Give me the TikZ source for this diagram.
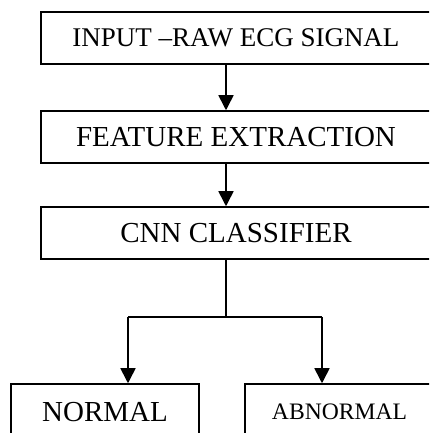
\documentclass[tikz,border=0pt]{standalone}
\usepackage{fontspec}
\setmainfont{Liberation Serif}
\usetikzlibrary{arrows.meta}

\begin{document}
\begin{tikzpicture}[x=1pt,y=1pt,
    box/.style={draw,rectangle,line width=1.5pt,inner sep=0pt,minimum height=52pt},
    link/.style={line width=1.6pt},
    arr/.style={link,-{Triangle[length=15pt,width=15pt]}}]
  \useasboundingbox (0,0) rectangle (429,433);
  \clip (0,0) rectangle (429,433);
  \coordinate (axis) at (226,0);
  \node [box,minimum width=390pt,font=\fontsize{27}{27}\selectfont] (input) at (236,395) {INPUT –RAW ECG SIGNAL};
  \node [box,minimum width=390pt,font=\fontsize{29}{29}\selectfont] (feat) at (236,296) {FEATURE EXTRACTION};
  \node [box,minimum width=390pt,font=\fontsize{29}{29}\selectfont] (cnn) at (236,200) {CNN CLASSIFIER};
  \node [box,minimum width=188pt,minimum height=56pt,font=\fontsize{29}{29}\selectfont] (normal) at (105,21) {NORMAL};
  \node [box,minimum width=189pt,minimum height=56pt,font=\fontsize{23.6}{23.6}\selectfont] (abnormal) at (339.5,21) {ABNORMAL};
  \draw [arr] (input.south -| axis) -- (feat.north -| axis);
  \draw [arr] (feat.south -| axis) -- (cnn.north -| axis);
  % split to the two results
  \coordinate (split) at (226,116);
  \coordinate (nl) at (128,116);
  \coordinate (al) at (322,116);
  \draw [link] (cnn.south -| split) -- (split) (nl) -- (al);
  \draw [arr] (nl) -- (normal.north -| nl);
  \draw [arr] (al) -- (abnormal.north -| al);
\end{tikzpicture}
\end{document}
